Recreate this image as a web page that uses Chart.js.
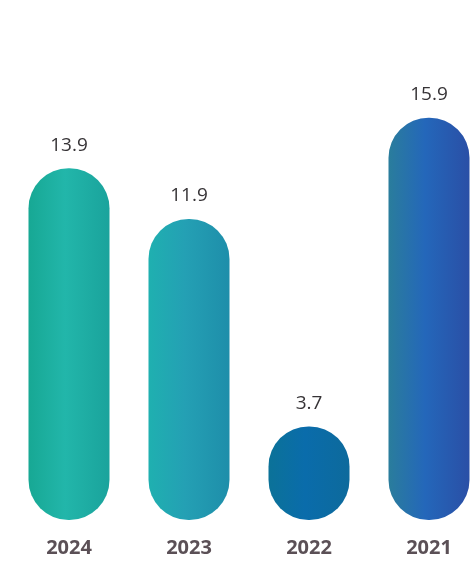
<!DOCTYPE html>
<html>
<head>
<meta charset="utf-8">
<script src="https://cdn.jsdelivr.net/npm/chart.js@4/dist/chart.umd.min.js"></script>
<style>
  html, body { margin: 0; padding: 0; background: #ffffff; overflow: hidden; }
  #wrap { width: 500px; height: 562px; }
</style>
</head>
<body>
<div id="wrap"><canvas id="yearChart"></canvas></div>
<script>
const years = ["2024", "2023", "2022", "2021"];
const values = [13.9, 11.9, 3.7, 15.9];
// left edge, middle, right edge of each capsule
const barShades = [
    ["#17a894", "#22b6aa", "#1aa39c"],
    ["#1fb0b0", "#24a0b4", "#1e8eaa"],
    ["#0b7298", "#0a6cab", "#0d6a9c"],
    ["#2a7d9c", "#2467ba", "#2a4fa6"]
];

// paint each bar with a soft side-to-side shade
const shadeBars = {
    id: "shadeBars",
    beforeDatasetsDraw(chart){
        const ctx = chart.ctx;
        chart.getDatasetMeta(0).data.forEach((bar, i)=>{
            const half = bar.width / 2;
            const g = ctx.createLinearGradient(bar.x - half, 0, bar.x + half, 0);
            g.addColorStop(0, barShades[i][0]);
            g.addColorStop(0.45, barShades[i][1]);
            g.addColorStop(1, barShades[i][2]);
            bar.options.backgroundColor = g;
        });
    }
};

// value above each bar
const valueLabels = {
    id: "valueLabels",
    afterDatasetsDraw(chart){
        const ctx = chart.ctx;
        ctx.save();
        ctx.font = "500 19px 'Open Sans'";
        ctx.fillStyle = "#363336";
        ctx.textAlign = "center";
        ctx.textBaseline = "middle";
        chart.getDatasetMeta(0).data.forEach((bar, i)=>{
            ctx.fillText(values[i].toFixed(1), bar.x, bar.y - 23);
        });
        ctx.restore();
    }
};

new Chart("yearChart", {
    type: "bar",
    data: {
        labels: years,
        datasets: [{
            data: values,
            backgroundColor: barShades.map((s)=>s[1]),
            borderRadius: 40,
            borderSkipped: false,
            barPercentage: 0.675,
            categoryPercentage: 1
        }]
    },
    options: {
        responsive: true,
        maintainAspectRatio: false,
        animation: false,
        layout: {padding: {top: 14, left: 9, right: 11, bottom: 2}},
        plugins: {legend: {display: false}, tooltip: {enabled: false}},
        scales: {
            y: {display: false, min: 0, max: 20},
            x: {
                grid: {display: false, drawTicks: false},
                border: {display: false},
                afterFit: (scale)=>{ scale.height = 40; },
                ticks: {
                    padding: 16,
                    color: "#5b5056",
                    font: {family: "'Open Sans'", size: 20, weight: "bold"}
                }
            }
        }
    },
    plugins: [shadeBars, valueLabels]
});
</script>
</body>
</html>
